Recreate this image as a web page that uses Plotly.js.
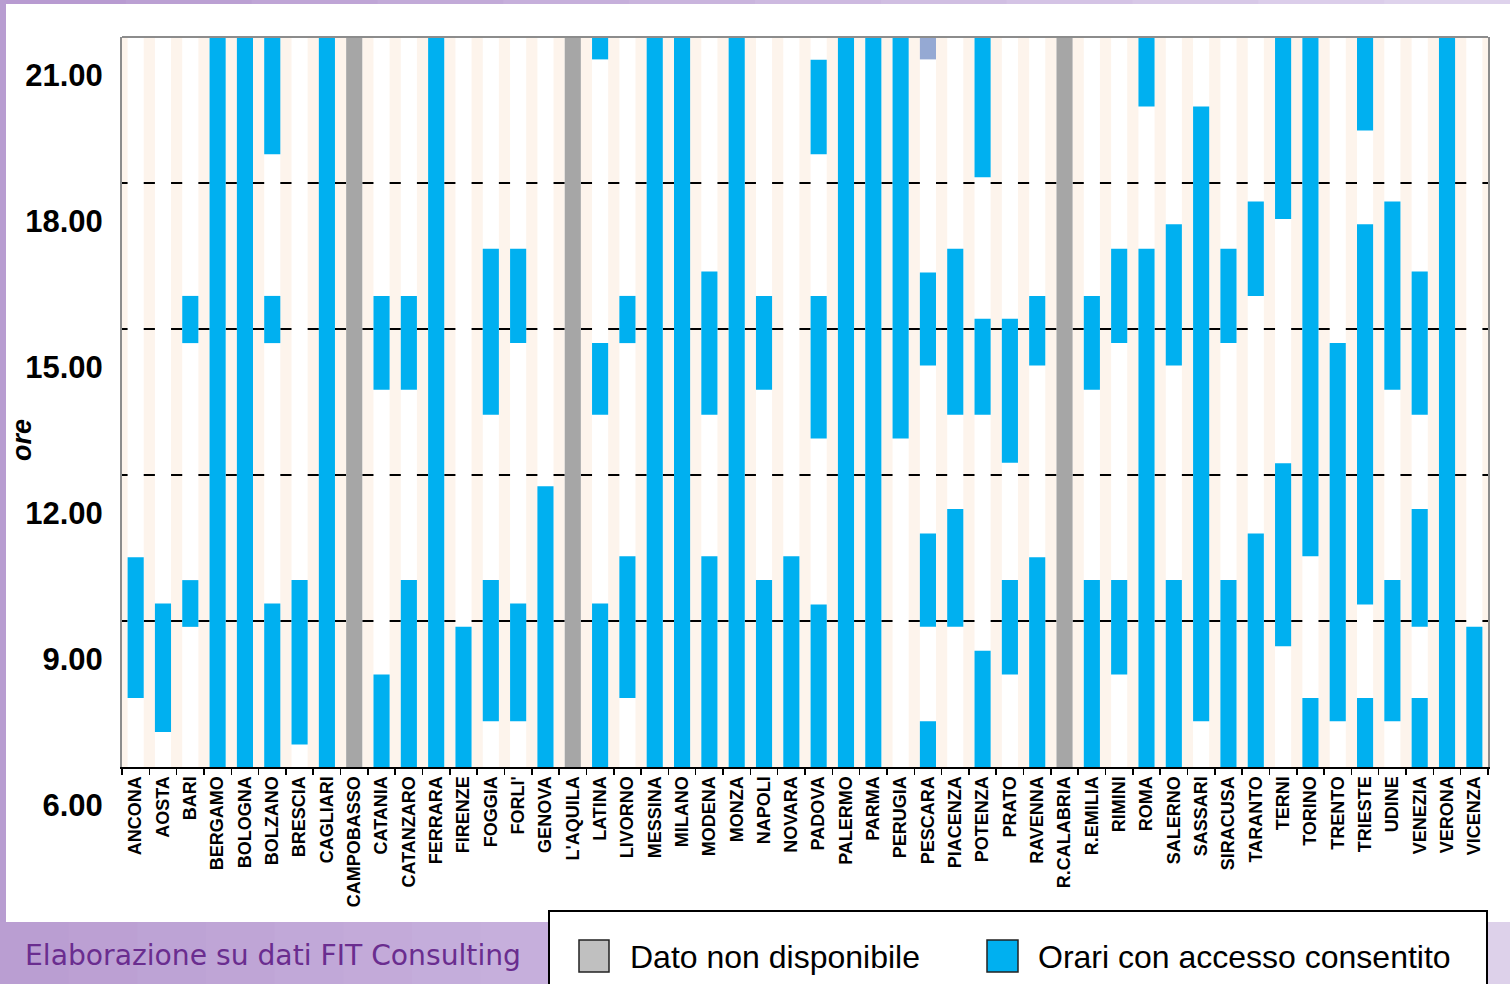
<!DOCTYPE html>
<html>
<head>
<meta charset="utf-8">
<script src="https://cdn.plot.ly/plotly-3.0.1.min.js"></script>
<style>
  html, body { margin: 0; padding: 0; background: #ffffff; }
  #chart { width: 1510px; height: 984px; }
</style>
</head>
<body>
<div id="chart"></div>
<script>
// ---------- DATA (hours) ----------
const categories = ["ANCONA","AOSTA","BARI","BERGAMO","BOLOGNA","BOLZANO","BRESCIA","CAGLIARI","CAMPOBASSO","CATANIA",
  "CATANZARO","FERRARA","FIRENZE","FOGGIA","FORLI'","GENOVA","L'AQUILA","LATINA","LIVORNO","MESSINA",
  "MILANO","MODENA","MONZA","NAPOLI","NOVARA","PADOVA","PALERMO","PARMA","PERUGIA","PESCARA",
  "PIACENZA","POTENZA","PRATO","RAVENNA","R.CALABRIA","R.EMILIA","RIMINI","ROMA","SALERNO","SASSARI",
  "SIRACUSA","TARANTO","TERNI","TORINO","TRENTO","TRIESTE","UDINE","VENEZIA","VERONA","VICENZA"];

// first (lowest) access window
const segA_from = [7.42,6.72,8.88,6,6,6,6.46,6,null,6,
  6,6,6,6.94,6.94,6,null,6,7.42,6,
  6,6,6,6,6,6,6,6,12.75,6,
  8.88,6,7.90,6,null,6,7.90,6,6,6.94,
  6,6,8.48,6,6.94,6,6.94,6,6,6];
const segA_to = [10.31,9.36,9.84,21,21,9.36,9.84,21,null,7.90,
  9.84,21,8.88,9.84,9.36,11.77,null,9.36,10.33,21,
  21,10.33,21,9.84,10.33,9.34,21,21,21,6.94,
  11.30,8.39,9.84,10.31,null,9.84,9.84,16.65,9.84,19.57,
  9.84,10.80,12.24,7.42,14.71,7.42,9.84,7.42,21,8.88];

// second access window
const segB_from = [null,null,14.71,null,null,14.71,null,null,null,13.75,
  13.75,null,null,13.24,14.71,null,null,13.24,14.71,null,
  null,13.24,null,13.75,null,12.75,null,null,null,8.88,
  13.24,13.24,12.25,14.25,null,13.75,14.71,19.57,14.25,null,
  14.71,15.68,17.26,10.33,null,9.34,13.75,8.88,null,null];
const segB_to = [null,null,15.68,null,null,15.68,null,null,null,15.68,
  15.68,null,null,16.65,16.65,null,null,14.71,15.68,null,
  null,16.18,null,15.68,null,15.68,null,null,null,10.80,
  16.65,15.21,15.21,15.68,null,15.68,16.65,21,17.15,null,
  16.65,17.62,21,21,null,17.15,17.62,11.30,null,null];

// third access window
const segC_from = [null,null,null,null,null,18.59,null,null,null,null,
  null,null,null,null,null,null,null,20.54,null,null,
  null,null,null,null,null,18.59,null,null,null,14.25,
  null,18.12,null,null,null,null,null,null,null,null,
  null,null,null,null,null,19.08,null,13.24,null,null];
const segC_to = [null,null,null,null,null,21,null,null,null,null,
  null,null,null,null,null,null,null,21,null,null,
  null,null,null,null,null,20.53,null,null,null,16.16,
  null,21,null,null,null,null,null,null,null,null,
  null,null,null,null,null,21,null,16.18,null,null];

// Pescara late window (different shade)
const extra_from = categories.map(c => c === "PESCARA" ? 20.54 : null);
const extra_to   = categories.map(c => c === "PESCARA" ? 21 : null);

// data not available
const notAvailable = ["CAMPOBASSO","L'AQUILA","R.CALABRIA"];

const yTickVals = [6, 9, 12, 15, 18, 21];
const yTickText = ["6.00", "9.00", "12.00", "15.00", "18.00", "21.00"];
const axisMin = 6, axisMax = 21;

// ---------- STYLE ----------
const BLUE = "#00b0f0", GREY = "#a6a6a6", PALE = "#95a9d3";
const BW = 0.59;
const FONT = "Liberation Sans, Arial, sans-serif";

function segTrace(from, to, color) {
  return {
    type: "bar", x: categories,
    base: from.map(v => v),
    y: from.map((v, i) => (v === null || to[i] === null) ? null : to[i] - v),
    width: BW, marker: { color: color, line: { width: 0 } },
    hoverinfo: "skip", showlegend: false
  };
}

const traces = [
  { type: "bar", x: categories, base: categories.map(() => axisMin),
    y: categories.map(() => axisMax - axisMin), width: BW,
    marker: { color: "#ffffff", line: { width: 0 } }, hoverinfo: "skip", showlegend: false },
  { type: "bar", x: categories,
    base: categories.map(c => notAvailable.includes(c) ? axisMin : null),
    y: categories.map(c => notAvailable.includes(c) ? axisMax - axisMin : null), width: BW,
    marker: { color: GREY, line: { width: 0 } }, hoverinfo: "skip", showlegend: false },
  segTrace(segA_from, segA_to, BLUE),
  segTrace(segB_from, segB_to, BLUE),
  segTrace(segC_from, segC_to, BLUE),
  segTrace(extra_from, extra_to, PALE)
];

// pixel -> paper helpers for decorations
const L = 122, R = 1488, T = 37, B = 767;
const px = v => (v - L) / (R - L);
const py = v => (B - v) / (B - T);

const shapes = [];
// top strip gradient
const topSteps = 12;
for (let i = 0; i < topSteps; i++) {
  const t = i / (topSteps - 1);
  const c1 = [184, 155, 209], c2 = [222, 210, 236];
  const col = `rgb(${Math.round(c1[0]+(c2[0]-c1[0])*t)},${Math.round(c1[1]+(c2[1]-c1[1])*t)},${Math.round(c1[2]+(c2[2]-c1[2])*t)})`;
  shapes.push({ type: "rect", xref: "paper", yref: "paper", layer: "below",
    x0: px(1510 * i / topSteps), x1: px(1510 * (i + 1) / topSteps + 1), y0: py(4), y1: py(0),
    fillcolor: col, line: { width: 0 } });
}
// left strip
shapes.push({ type: "rect", xref: "paper", yref: "paper", layer: "below",
  x0: px(0), x1: px(6), y0: py(922), y1: py(0), fillcolor: "#b89dd1", line: { width: 0 } });
// bottom band left
const botSteps = 8;
for (let i = 0; i < botSteps; i++) {
  const t = i / (botSteps - 1);
  const c1 = [186, 158, 210], c2 = [198, 175, 220];
  const col = `rgb(${Math.round(c1[0]+(c2[0]-c1[0])*t)},${Math.round(c1[1]+(c2[1]-c1[1])*t)},${Math.round(c1[2]+(c2[2]-c1[2])*t)})`;
  shapes.push({ type: "rect", xref: "paper", yref: "paper", layer: "below",
    x0: px(549 * i / botSteps), x1: px(549 * (i + 1) / botSteps + 1), y0: py(990), y1: py(922),
    fillcolor: col, line: { width: 0 } });
}
// bottom band right
shapes.push({ type: "rect", xref: "paper", yref: "paper", layer: "below",
  x0: px(1487), x1: px(1512), y0: py(990), y1: py(922), fillcolor: "#ddd1ea", line: { width: 0 } });
// legend box
shapes.push({ type: "rect", xref: "paper", yref: "paper", layer: "above",
  x0: px(549), x1: px(1487), y0: py(1000), y1: py(911), fillcolor: "#ffffff",
  line: { color: "#000000", width: 2 } });
shapes.push({ type: "rect", xref: "paper", yref: "paper", layer: "above",
  x0: px(579), x1: px(609), y0: py(972), y1: py(940), fillcolor: "#c0c0c0",
  line: { color: "#222222", width: 1.5 } });
shapes.push({ type: "rect", xref: "paper", yref: "paper", layer: "above",
  x0: px(987), x1: px(1018), y0: py(972), y1: py(940), fillcolor: BLUE,
  line: { color: "#222222", width: 1.5 } });
// top frame line
shapes.push({ type: "line", xref: "paper", yref: "paper", layer: "above",
  x0: 0, x1: 1, y0: 1, y1: 1, line: { color: "#8c8c8c", width: 2 } });

const annotations = [
  { xref: "paper", yref: "paper", x: px(22), y: py(440), text: "ore", showarrow: false,
    textangle: -90, xanchor: "center", yanchor: "middle",
    font: { family: FONT, size: 27, color: "#000", weight: "bold", style: "italic" } },
  { xref: "paper", yref: "paper", x: px(23), y: py(955), text: "Elaborazione su dati FIT Consulting",
    showarrow: false, xanchor: "left", yanchor: "middle",
    font: { family: "DejaVu Sans, Verdana, sans-serif", size: 28.2, color: "#6a2d8f" } },
  { xref: "paper", yref: "paper", x: px(628), y: py(957), text: "Dato non disponibile",
    showarrow: false, xanchor: "left", yanchor: "middle",
    font: { family: FONT, size: 32, color: "#000" } },
  { xref: "paper", yref: "paper", x: px(1036), y: py(957), text: "Orari con accesso consentito",
    showarrow: false, xanchor: "left", yanchor: "middle",
    font: { family: FONT, size: 32, color: "#000" } }
];

const layout = {
  width: 1510, height: 984,
  margin: { l: L, r: 1510 - R, t: T, b: 984 - B, pad: 0 },
  paper_bgcolor: "#ffffff",
  plot_bgcolor: "#fdf4ec",
  barmode: "overlay",
  showlegend: false,
  xaxis: {
    type: "category", range: [-0.5, categories.length - 0.5],
    tickangle: -90, ticks: "outside", tickson: "boundaries", ticklen: 6,
    tickcolor: "#000", tickwidth: 1.5,
    showline: true, linecolor: "#000", linewidth: 2,
    showgrid: false, fixedrange: true,
    tickfont: { family: FONT, size: 18, color: "#000", weight: "bold" }
  },
  yaxis: {
    range: [axisMin, axisMax], tickvals: yTickVals, ticktext: yTickText,
    showgrid: true, gridcolor: "#000", gridwidth: 1.5,
    zeroline: false, showline: true, linecolor: "#8c8c8c", linewidth: 2, mirror: true,
    ticks: "", ticklabelshift: 38, ticklabelstandoff: 11, fixedrange: true,
    tickfont: { family: FONT, size: 31, color: "#000", weight: "bold" }
  },
  shapes: shapes,
  annotations: annotations
};

Plotly.newPlot("chart", traces, layout, { displayModeBar: false, staticPlot: true });
</script>
</body>
</html>
